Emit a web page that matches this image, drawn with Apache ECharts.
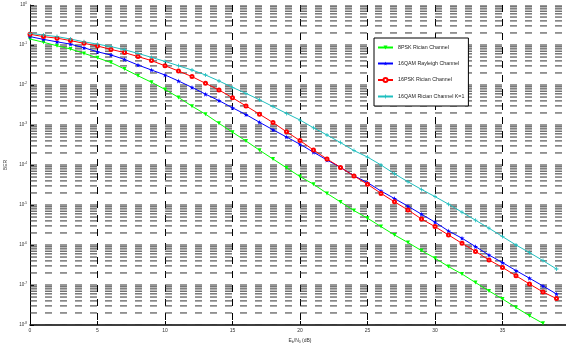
<!DOCTYPE html>
<html>

<head>
    <meta charset="UTF-8">
    <title>BER</title>
    <script src="https://cdn.jsdelivr.net/npm/echarts@6/dist/echarts.min.js"></script>
</head>

<body style="margin:0">
    <div id="main" style="width: 566px; height: 343px;"></div>

    <script>
        // Eb/N0 (dB)
        var snr = [0, 1, 2, 3, 4, 5, 6, 7, 8, 9, 10, 11, 12, 13, 14, 15, 16, 17, 18, 19,
            20, 21, 22, 23, 24, 25, 26, 27, 28, 29, 30, 31, 32, 33, 34, 35, 36, 37, 38, 39];

        var ber8pskRician = [0.141, 0.117, 0.0955, 0.0794, 0.0617, 0.0479, 0.0363, 0.0251, 0.0170, 0.0117,
            7.76e-3, 4.90e-3, 2.95e-3, 1.86e-3, 1.10e-3, 6.61e-4, 3.98e-4, 2.34e-4, 1.41e-4, 8.51e-5,
            5.13e-5, 3.31e-5, 1.95e-5, 1.19e-5, 7.24e-6, 4.68e-6, 2.88e-6, 1.78e-6, 1.15e-6, 7.24e-7,
            4.68e-7, 2.88e-7, 1.88e-7, 1.15e-7, 7.08e-8, 4.47e-8, 2.75e-8, 1.70e-8, 1.10e-8];

        var ber16qamRayleigh = [0.162, 0.138, 0.120, 0.105, 0.0851, 0.0676, 0.0562, 0.0437, 0.0316, 0.0237,
            0.0178, 0.0126, 8.71e-3, 5.89e-3, 4.07e-3, 2.69e-3, 1.82e-3, 1.17e-3, 7.59e-4, 5.01e-4,
            3.31e-4, 2.09e-4, 1.33e-4, 8.71e-5, 5.37e-5, 3.63e-5, 2.24e-5, 1.45e-5, 9.33e-6, 5.89e-6,
            3.72e-6, 2.24e-6, 1.48e-6, 9.12e-7, 5.62e-7, 3.63e-7, 2.29e-7, 1.48e-7, 9.44e-8, 5.96e-8];

        var ber16pskRician = [0.186, 0.162, 0.148, 0.129, 0.110, 0.0944, 0.0776, 0.0646, 0.0513, 0.0407,
            0.0302, 0.0224, 0.0162, 0.0110, 7.50e-3, 4.79e-3, 2.99e-3, 1.86e-3, 1.15e-3, 6.76e-4,
            4.07e-4, 2.37e-4, 1.41e-4, 8.71e-5, 5.31e-5, 3.31e-5, 1.95e-5, 1.20e-5, 7.50e-6, 4.47e-6,
            2.88e-6, 1.78e-6, 1.10e-6, 6.92e-7, 4.22e-7, 2.75e-7, 1.70e-7, 1.06e-7, 6.68e-8, 4.57e-8];

        var ber16qamRicianK1 = [0.195, 0.178, 0.162, 0.141, 0.120, 0.105, 0.0912, 0.0759, 0.0617, 0.0490,
            0.0389, 0.0302, 0.0237, 0.0178, 0.0126, 8.71e-3, 6.17e-3, 4.27e-3, 2.88e-3, 1.95e-3,
            1.33e-3, 8.51e-4, 5.62e-4, 3.63e-4, 2.29e-4, 1.58e-4, 1.00e-4, 6.03e-5, 3.80e-5, 2.45e-5,
            1.62e-5, 1.05e-5, 6.61e-6, 4.17e-6, 2.63e-6, 1.62e-6, 1.00e-6, 6.46e-7, 4.07e-7, 2.51e-7];

        var seriesNames = ['8PSK Rician Channel', '16QAM Rayleigh Channel', '16PSK Rician Channel', '16QAM Rician Channel K=1'];

        // log grid: decades and mantissas for the dashed minor lines
        var decades = [1e-8, 1e-7, 1e-6, 1e-5, 1e-4, 1e-3, 1e-2, 1e-1];
        var mantissas = [1, 2, 3, 4, 5, 6, 7, 8, 9];
        var xMin = 0, xMax = 40;

        var gridValues = [[xMin, 1]];
        decades.forEach(function (d) {
            mantissas.forEach(function (m) {
                gridValues.push([xMin, d * m]);
            });
        });

        function pairs(ys) {
            return ys.map(function (y, i) { return [snr[i], y]; });
        }

        var starPath = 'path://M50,0 L61,35 L98,35 L68,57 L79,91 L50,70 L21,91 L32,57 L2,35 L39,35 Z';
        var plusPath = 'path://M4,0 H6 V4 H10 V6 H6 V10 H4 V6 H0 V4 H4 Z';

        var myChart = echarts.init(document.getElementById('main'));

        var option = {
            backgroundColor: '#fff',
            animation: false,
            grid: { left: 30, right: -4, top: 5, bottom: 18, containLabel: false, outerBoundsMode: 'none' },
            legend: {
                orient: 'vertical',
                left: 374,
                top: 38,
                z: 10,
                padding: [7, 4, 7, 3],
                itemGap: 11,
                itemWidth: 15,
                itemHeight: 5,
                backgroundColor: '#fff',
                borderColor: '#000',
                borderWidth: 1,
                textStyle: { fontFamily: 'Liberation Sans', fontSize: 5.3, color: '#222' },
                data: seriesNames
            },
            xAxis: {
                type: 'value',
                min: xMin,
                max: xMax,
                interval: 5,
                name: 'E{sub|b}/N{sub|0} (dB)',
                nameLocation: 'middle',
                nameGap: 7,
                nameTextStyle: {
                    fontFamily: 'Liberation Sans', fontSize: 5, color: '#333',
                    rich: { sub: { fontSize: 3.5, verticalAlign: 'bottom', padding: [3, 0, 0, 0] } }
                },
                axisLine: { lineStyle: { color: '#000', width: 1.5 } },
                axisTick: { inside: true, length: 4, lineStyle: { color: '#000' } },
                axisLabel: { fontFamily: 'Liberation Sans', fontSize: 5, color: '#333', margin: 3 },
                splitLine: { show: true, lineStyle: { color: '#000', type: [7, 7], width: 1 } }
            },
            yAxis: {
                type: 'log',
                logBase: 10,
                min: 1e-8,
                max: 1,
                interval: 1,
                name: 'BER',
                nameLocation: 'middle',
                nameGap: 13,
                nameTextStyle: { fontFamily: 'Liberation Sans', fontSize: 5, color: '#333' },
                axisLine: { show: true, lineStyle: { color: '#000', width: 1 } },
                axisTick: { show: true, inside: true, length: 4, lineStyle: { color: '#000' } },
                axisLabel: {
                    fontFamily: 'Liberation Sans', fontSize: 4.5, color: '#333', margin: 3,
                    formatter: function (v) {
                        return '10{sup|' + Math.round(Math.log10(v)) + '}';
                    },
                    rich: { sup: { fontSize: 3.2, verticalAlign: 'top', padding: [0, 0, 3, 0] } }
                },
                splitLine: { show: false }
            },
            series: [
                {
                    // dashed horizontal grid at every 1..9 x 10^k
                    name: 'grid',
                    type: 'custom',
                    silent: true,
                    z: 1,
                    clip: true,
                    data: gridValues,
                    encode: { x: 0, y: 1 },
                    renderItem: function (params, api) {
                        var v = api.value(1);
                        var p0 = api.coord([xMin, v]);
                        var p1 = api.coord([xMax, v]);
                        return {
                            type: 'line',
                            shape: { x1: p0[0], y1: p0[1], x2: p1[0], y2: p1[1] },
                            style: { stroke: '#333', lineWidth: 1, lineDash: [7, 8] }
                        };
                    }
                },
                {
                    name: seriesNames[0],
                    type: 'line',
                    data: pairs(ber8pskRician),
                    z: 3,
                    color: '#00ff00',
                    lineStyle: { width: 1 },
                    symbol: 'triangle',
                    symbolRotate: 180,
                    symbolSize: 4,
                    showAllSymbol: true
                },
                {
                    name: seriesNames[1],
                    type: 'line',
                    data: pairs(ber16qamRayleigh),
                    z: 3,
                    color: '#0000ff',
                    lineStyle: { width: 1 },
                    symbol: starPath,
                    symbolSize: 5,
                    showAllSymbol: true
                },
                {
                    name: seriesNames[2],
                    type: 'line',
                    data: pairs(ber16pskRician),
                    z: 3,
                    color: '#ff0000',
                    lineStyle: { width: 1 },
                    symbol: 'emptyCircle',
                    symbolSize: 3,
                    itemStyle: { borderWidth: 1 },
                    showAllSymbol: true
                },
                {
                    name: seriesNames[3],
                    type: 'line',
                    data: pairs(ber16qamRicianK1),
                    z: 3,
                    color: '#1fbfbf',
                    lineStyle: { width: 1 },
                    symbol: plusPath,
                    symbolSize: 4,
                    showAllSymbol: true
                }
            ]
        };

        myChart.setOption(option);
    </script>
</body>

</html>
